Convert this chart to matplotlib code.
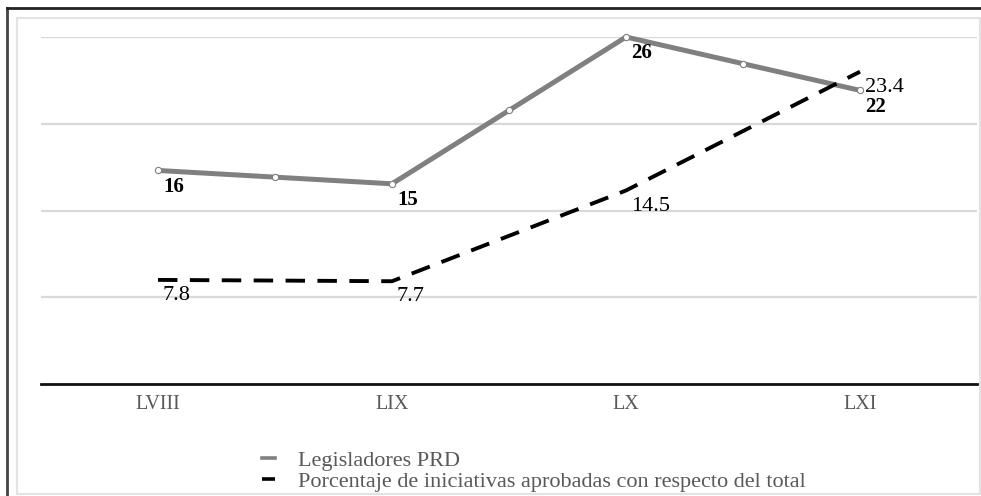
import matplotlib
matplotlib.use("Agg")
import matplotlib.pyplot as plt
import numpy as np
from matplotlib.lines import Line2D
from matplotlib.patches import Rectangle

categories = ["LVIII", "LIX", "LX", "LXI"]
legisladores = [16, 15, 26, 22]
porcentaje = [7.8, 7.7, 14.5, 23.4]
grid_vals = [6.5, 13, 19.5, 26]
series_names = ["Legisladores PRD",
                "Porcentaje de iniciativas aprobadas con respecto del total"]

plt.rcParams['font.family'] = ['Liberation Serif', 'DejaVu Serif']

W, H = 981, 496
fig = plt.figure(figsize=(W / 100, H / 100), dpi=100)

# frame decorations
fig.add_artist(Line2D([7 / W, 7 / W], [0, 1 - 8 / H], transform=fig.transFigure,
                      color="#444444", lw=2))
fig.add_artist(Line2D([7 / W, 1], [1 - 8 / H, 1 - 8 / H], transform=fig.transFigure,
                      color="#222222", lw=2))
fig.add_artist(Rectangle((17 / W, 2 / H), (980 - 17) / W, (478 - 2) / H,
                         transform=fig.transFigure, fill=False,
                         edgecolor="#e3e3e3", lw=1.5))

ax = fig.add_axes([41 / W, 112 / H, 936 / W, 347 / H])
x = np.arange(len(categories))
ax.set_xlim(-0.5, len(categories) - 0.5)
ax.set_ylim(0, 26)

for g in grid_vals:
    ax.axhline(g, color="#d9d9d9", lw=1.6, zorder=0)
ax.axhline(0, color="#111111", lw=2, zorder=1, clip_on=False)

for s in ax.spines.values():
    s.set_visible(False)
ax.set_yticks([])
ax.set_xticks(x)
ax.set_xticklabels(categories, fontsize=14.5, color="#595959")
ax.tick_params(axis="x", length=0, pad=8)

ax.plot(x, legisladores, color="#808080", lw=3.6, zorder=3, clip_on=False,
        solid_capstyle="butt", marker="o", markersize=4.5,
        markerfacecolor="white", markeredgecolor="#808080", markeredgewidth=0.8,
        label=series_names[0])
# small decorative markers half-way along each segment
leg = np.array(legisladores, dtype=float)
ax.plot((x[:-1] + x[1:]) / 2, (leg[:-1] + leg[1:]) / 2, linestyle="none",
        marker="o", markersize=4.5, markerfacecolor="white",
        markeredgecolor="#808080", markeredgewidth=0.8, zorder=4, clip_on=False)

ax.plot(x, porcentaje, color="black", lw=2.8, zorder=3, clip_on=False,
        dashes=(5, 3.2), label=series_names[1])

for xi, v in zip(x, legisladores):
    ax.annotate(f"{v}", (xi, v), xytext=(3.6, -4.5), textcoords="offset points",
                ha="left", va="top", fontsize=15, fontweight="bold", color="black")
for xi, v in zip(x, porcentaje):
    ax.annotate(f"{v}", (xi, v), xytext=(3.6, -4.5), textcoords="offset points",
                ha="left", va="top", fontsize=16, color="black")

handles = [Line2D([], [], color="#808080", lw=2.6),
           Line2D([], [], color="black", lw=2.6, dashes=(5, 3.2))]
lg = fig.legend(handles, series_names, loc="upper left",
                bbox_to_anchor=(262 / W, 1 - 450 / H), frameon=False,
                fontsize=16, handlelength=0.6, handletextpad=1.0,
                labelspacing=0.05, borderaxespad=0, borderpad=0)
for t in lg.get_texts():
    t.set_color("#595959")

fig.savefig("out.png", dpi=100)
